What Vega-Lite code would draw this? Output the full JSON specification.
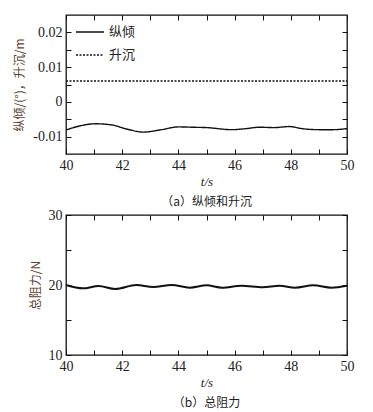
{
  "$schema": "https://vega.github.io/schema/vega-lite/v6.json",
  "padding": {"left": 13, "top": 13, "right": 22, "bottom": 5},
  "spacing": -2,
  "datasets": {
    "top": [
      {"t": 40.0, "v": -0.0081, "s": "纵倾"},
      {"t": 40.5, "v": -0.0069, "s": "纵倾"},
      {"t": 41.05, "v": -0.0063, "s": "纵倾"},
      {"t": 41.6, "v": -0.0066, "s": "纵倾"},
      {"t": 42.2, "v": -0.0079, "s": "纵倾"},
      {"t": 42.75, "v": -0.0087, "s": "纵倾"},
      {"t": 43.4, "v": -0.008, "s": "纵倾"},
      {"t": 44.0, "v": -0.0072, "s": "纵倾"},
      {"t": 44.5, "v": -0.0073, "s": "纵倾"},
      {"t": 45.0, "v": -0.0074, "s": "纵倾"},
      {"t": 45.9, "v": -0.008, "s": "纵倾"},
      {"t": 46.4, "v": -0.0077, "s": "纵倾"},
      {"t": 46.9, "v": -0.0073, "s": "纵倾"},
      {"t": 47.4, "v": -0.0074, "s": "纵倾"},
      {"t": 47.95, "v": -0.0071, "s": "纵倾"},
      {"t": 48.4, "v": -0.0077, "s": "纵倾"},
      {"t": 49.0, "v": -0.008, "s": "纵倾"},
      {"t": 49.5, "v": -0.008, "s": "纵倾"},
      {"t": 50.0, "v": -0.0077, "s": "纵倾"},
      {"t": 40.0, "v": 0.006, "s": "升沉"},
      {"t": 50.0, "v": 0.006, "s": "升沉"}
    ],
    "drag": [
      {"t": 40.0, "v": 20.0},
      {"t": 40.6, "v": 19.52},
      {"t": 41.16, "v": 19.86},
      {"t": 41.75, "v": 19.43},
      {"t": 42.5, "v": 20.0},
      {"t": 43.1, "v": 19.71},
      {"t": 43.76, "v": 20.0},
      {"t": 44.4, "v": 19.62},
      {"t": 45.0, "v": 19.95},
      {"t": 45.55, "v": 19.62},
      {"t": 46.25, "v": 19.9},
      {"t": 47.0, "v": 19.67},
      {"t": 47.6, "v": 19.9},
      {"t": 48.15, "v": 19.62},
      {"t": 48.8, "v": 19.95},
      {"t": 49.45, "v": 19.62},
      {"t": 50.0, "v": 19.9}
    ]
  },
  "vconcat": [
    {
      "width": 281,
      "height": 139,
      "data": {"name": "top"},
      "title": {"text": "（a）纵倾和升沉", "orient": "bottom", "offset": 9},
      "layer": [
        {
          "mark": {"type": "line", "interpolate": "monotone", "color": "#111", "strokeWidth": 1.4},
          "encoding": {
            "x": {"field": "t", "type": "quantitative", "scale": {"domain": [40, 50], "nice": false},
              "axis": {"orient": "bottom", "values": [40,41,42,43,44,45,46,47,48,49,50], "labelExpr": "datum.value % 2 == 0 ? datum.label : ''", "title": "t/s"}},
            "y": {"field": "v", "type": "quantitative", "scale": {"domain": [-0.015, 0.025], "nice": false, "zero": false},
              "axis": {"orient": "left", "values": [-0.01,-0.005,0,0.005,0.01,0.015,0.02], "labelExpr": "abs(round(datum.value*200)) % 2 == 0 ? (datum.value < 0 ? '-' : '') + format(abs(datum.value), '.2~f') : ''", "title": "纵倾/(°)，升沉/m"}},
            "strokeDash": {"field": "s", "type": "nominal", "scale": {"domain": ["纵倾", "升沉"], "range": [[1, 0], [2, 1.5]]},
              "legend": {"title": null, "orient": "none", "legendX": 9, "legendY": 2, "symbolType": "stroke", "symbolSize": 784, "symbolStrokeWidth": 1.4, "symbolStrokeColor": "#111", "labelFont": "Noto Sans CJK SC", "labelFontSize": 13, "labelColor": "#222", "labelOffset": 4, "rowPadding": 1}}
          }
        },
        {
          "mark": {"type": "point", "opacity": 0},
          "encoding": {
            "x": {"field": "t", "type": "quantitative", "axis": {"orient": "top", "values": [40,41,42,43,44,45,46,47,48,49,50], "labels": false, "title": null}},
            "y": {"field": "v", "type": "quantitative", "axis": {"orient": "right", "values": [-0.01,-0.005,0,0.005,0.01,0.015,0.02], "labels": false, "title": null}}
          }
        }
      ],
      "resolve": {"axis": {"x": "independent", "y": "independent"}}
    },
    {
      "width": 281,
      "height": 140,
      "data": {"name": "drag"},
      "title": {"text": "（b）总阻力", "orient": "bottom", "offset": 9},
      "layer": [
        {
          "mark": {"type": "line", "interpolate": "monotone", "color": "#111", "strokeWidth": 2},
          "encoding": {
            "x": {"field": "t", "type": "quantitative", "scale": {"domain": [40, 50], "nice": false},
              "axis": {"orient": "bottom", "values": [40,41,42,43,44,45,46,47,48,49,50], "labelExpr": "datum.value % 2 == 0 ? datum.label : ''", "title": "t/s"}},
            "y": {"field": "v", "type": "quantitative", "scale": {"domain": [10, 30], "nice": false, "zero": false},
              "axis": {"orient": "left", "values": [10,15,20,25,30], "labelExpr": "datum.value % 10 == 0 ? datum.label : ''", "title": "总阻力/N"}}
          }
        },
        {
          "mark": {"type": "point", "opacity": 0},
          "encoding": {
            "x": {"field": "t", "type": "quantitative", "axis": {"orient": "top", "values": [40,41,42,43,44,45,46,47,48,49,50], "labels": false, "title": null}},
            "y": {"field": "v", "type": "quantitative", "axis": {"orient": "right", "values": [10,15,20,25,30], "labels": false, "title": null}}
          }
        }
      ],
      "resolve": {"axis": {"x": "independent", "y": "independent"}}
    }
  ],
  "config": {
    "view": {"stroke": "#111", "strokeWidth": 1.3},
    "axis": {
      "grid": false, "domain": false,
      "tickColor": "#111", "tickSize": -5, "tickWidth": 1,
      "labelFont": "Liberation Serif", "labelFontSize": 14, "labelColor": "#222", "labelPadding": 9,
      "labelFlush": false, "labelOverlap": false,
      "titleFont": "Noto Sans CJK SC", "titleFontSize": 12, "titleFontWeight": "normal", "titleColor": "#5d3f33", "titlePadding": 6
    },
    "axisX": {"titleFont": "Liberation Serif", "titleFontSize": 13, "titleFontStyle": "italic", "titleColor": "#222", "titlePadding": 3},
    "title": {"font": "Noto Sans CJK SC", "fontSize": 12, "fontWeight": "normal", "color": "#222", "anchor": "middle"}
  }
}
